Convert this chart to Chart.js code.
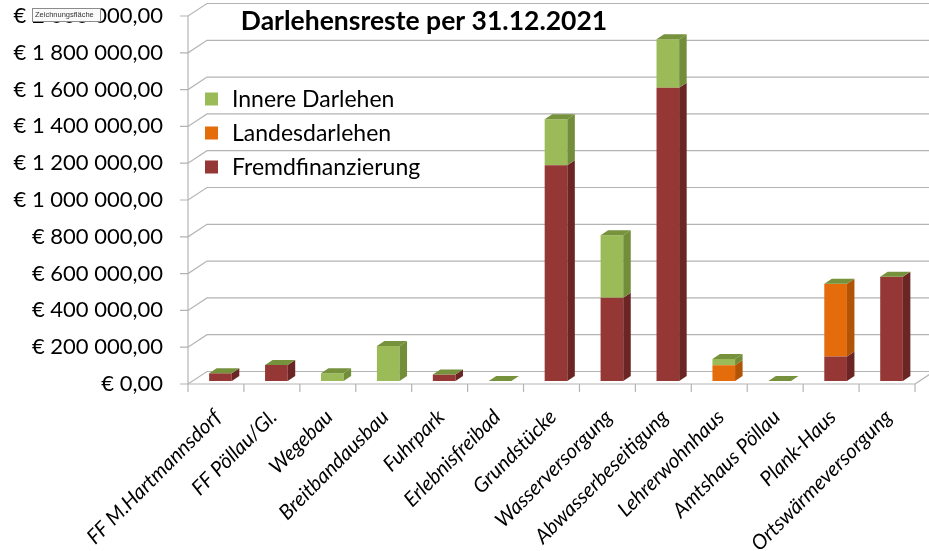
<!DOCTYPE html>
<html>
<head>
<meta charset="utf-8">
<script src="https://cdn.jsdelivr.net/npm/chart.js@4.4.1/dist/chart.umd.min.js"></script>
<style>
  html, body { margin: 0; padding: 0; background: #fff; }
  #wrap { width: 929px; height: 551px; }
</style>
</head>
<body>
<div id="wrap"><canvas id="chart" width="929" height="551"></canvas></div>
<script>
// -------- DATA ---------------
const categories = ["FF M.Hartmannsdorf", "FF Pöllau/Gl.", "Wegebau", "Breitbandausbau", "Fuhrpark",
    "Erlebnisfreibad", "Grundstücke", "Wasserversorgung", "Abwasserbeseitigung", "Lehrerwohnhaus",
    "Amtshaus Pöllau", "Plank-Haus", "Ortswärmeversorgung"];
const fremdfinanzierung = [42000, 87000, 0, 0, 36000, 0, 1172000, 453000, 1594000, 0, 0, 133000, 567000];
const landesdarlehen    = [0, 0, 0, 0, 0, 0, 0, 0, 0, 85000, 0, 396000, 0];
const innereDarlehen    = [0, 0, 42000, 190000, 0, 0, 250000, 339000, 263000, 35000, 0, 0, 0];
const yMin = 0, yMax = 2000000, yStep = 200000;
const titleText = "Darlehensreste per 31.12.2021";

// -------- 3D LOOK (Excel style) ---------------
const FRONT = { dx: -4.5, dy: 3 };     // column plane -> front edge of floor
const WALL  = { dx: 19, dy: -12.5 };   // front edge -> back wall
const DEPTH = { dx: 7.5, dy: -5 };     // depth of one column
const gridColor = "#b4b4b4";

function euro(v) {
    return "€ " + String(v).replace(/\B(?=(\d{3})+(?!\d))/g, " ") + ",00";
}

function poly(ctx, pts, color) {
    ctx.beginPath();
    ctx.moveTo(pts[0][0], pts[0][1]);
    pts.slice(1).forEach(p => ctx.lineTo(p[0], p[1]));
    ctx.closePath();
    ctx.fillStyle = color;
    ctx.fill();
}

function seg(ctx, x1, y1, x2, y2) {
    ctx.beginPath();
    ctx.moveTo(x1, y1);
    ctx.lineTo(x2, y2);
    ctx.stroke();
}

const box3d = {
    id: "box3d",
    beforeDatasetsDraw(chart) {
        const { ctx, chartArea: a, scales: { x, y } } = chart;
        const left = a.left + FRONT.dx, right = a.right + FRONT.dx;
        const bottom = y.getPixelForValue(yMin) + FRONT.dy;
        const top = y.getPixelForValue(yMax) + FRONT.dy;
        ctx.save();
        ctx.strokeStyle = gridColor;
        ctx.lineWidth = 1.2;
        // back wall grid + side wall diagonals + small y ticks
        y.ticks.forEach(t => {
            const fy = y.getPixelForValue(t.value) + FRONT.dy;
            ctx.beginPath();
            ctx.moveTo(left - 8, fy);
            ctx.lineTo(left, fy);
            ctx.lineTo(left + WALL.dx, fy + WALL.dy);
            ctx.lineTo(right + WALL.dx + 20, fy + WALL.dy);
            ctx.stroke();
        });
        seg(ctx, left, top, left, bottom);
        // floor front edge
        seg(ctx, left, bottom, right, bottom);
        seg(ctx, right, bottom, right + WALL.dx, bottom + WALL.dy);
        // category ticks
        const half = (x.getPixelForValue(1) - x.getPixelForValue(0)) / 2;
        for (let i = 0; i <= categories.length; i++) {
            const px = x.getPixelForValue(i) - half + FRONT.dx;
            seg(ctx, px, bottom, px, bottom + 8);
        }
        ctx.restore();
    },
    afterDatasetsDraw(chart) {
        const ctx = chart.ctx;
        const metas = chart.getSortedVisibleDatasetMetas();
        ctx.save();
        categories.forEach((_, i) => {
            metas.forEach((meta, k) => {
                const ds = chart.data.datasets[meta.index];
                const p = meta.data[i].getProps(["x", "y", "base", "width"], true);
                const l = p.x - p.width / 2, r = p.x + p.width / 2;
                if (Math.abs(p.base - p.y) > 0.5) {
                    poly(ctx, [[r, p.y], [r + DEPTH.dx, p.y + DEPTH.dy],
                        [r + DEPTH.dx, p.base + DEPTH.dy], [r, p.base]], ds.sideColor);
                }
                if (k === metas.length - 1) {
                    poly(ctx, [[l, p.y], [r, p.y], [r + DEPTH.dx, p.y + DEPTH.dy],
                        [l + DEPTH.dx, p.y + DEPTH.dy]], ds.topColor);
                }
            });
        });
        ctx.restore();
    },
    afterDraw(chart) {
        const ctx = chart.ctx;
        ctx.save();
        // title
        ctx.fillStyle = "#000";
        ctx.font = "bold 26.5px Lato";
        ctx.textAlign = "center";
        ctx.textBaseline = "alphabetic";
        ctx.fillText(titleText, 424, 30);
        // legend (reverse order like Excel)
        ctx.font = "23px Lato";
        ctx.textAlign = "left";
        ctx.textBaseline = "middle";
        const dsets = chart.data.datasets.slice().reverse();
        dsets.forEach((ds, i) => {
            const cy = 99 + i * 34;
            ctx.fillStyle = ds.backgroundColor;
            ctx.fillRect(205, cy - 6.5, 13, 13);
            ctx.fillStyle = "#000";
            ctx.fillText(ds.label, 232, cy + 1);
        });
        // Excel hover tip left in the screenshot
        ctx.fillStyle = "#fafafa";
        ctx.fillRect(32, 8, 68, 13);
        ctx.strokeStyle = "#8c8c8c";
        ctx.lineWidth = 1;
        ctx.strokeRect(32.5, 8.5, 68, 13);
        ctx.fillStyle = "#333";
        ctx.font = "7.5px 'Liberation Sans'";
        ctx.textBaseline = "middle";
        ctx.fillText("Zeichnungsfläche", 35, 15);
        ctx.restore();
    }
};

new Chart(document.getElementById("chart"), {
    type: "bar",
    data: {
        labels: categories,
        datasets: [
            { label: "Fremdfinanzierung", data: fremdfinanzierung, backgroundColor: "#953735",
              sideColor: "#6a2524", topColor: "#7a2c2b" },
            { label: "Landesdarlehen", data: landesdarlehen, backgroundColor: "#e46c0a",
              sideColor: "#b25408", topColor: "#c45d08" },
            { label: "Innere Darlehen", data: innereDarlehen, backgroundColor: "#9bbb59",
              sideColor: "#728e3a", topColor: "#76923c" }
        ]
    },
    options: {
        responsive: false,
        animation: false,
        devicePixelRatio: 1,
        layout: { padding: { top: 13, right: 9.5, left: 0, bottom: 0 } },
        datasets: { bar: { barPercentage: 0.405, categoryPercentage: 1, borderWidth: 0 } },
        plugins: { legend: { display: false }, tooltip: { enabled: false } },
        scales: {
            x: {
                stacked: true,
                grid: { display: false, drawTicks: false },
                border: { display: false },
                afterFit: s => { s.height = 170; s.paddingLeft = 0; s.paddingRight = 0; },
                ticks: {
                    autoSkip: false, maxRotation: 45, minRotation: 45,
                    padding: 24, labelOffset: -3,
                    color: "#000",
                    font: { family: "Lato", size: 20.5, style: "italic" }
                }
            },
            y: {
                stacked: true,
                min: yMin, max: yMax,
                grid: { display: false, drawTicks: false },
                border: { display: false },
                afterFit: s => { s.width = 192.5; s.paddingTop = 0; s.paddingBottom = 0; },
                ticks: {
                    stepSize: yStep, padding: 29.5, labelOffset: 3,
                    color: "#000",
                    font: { family: "Lato", size: 22 },
                    callback: v => euro(v)
                }
            }
        }
    },
    plugins: [box3d]
});
</script>
</body>
</html>
